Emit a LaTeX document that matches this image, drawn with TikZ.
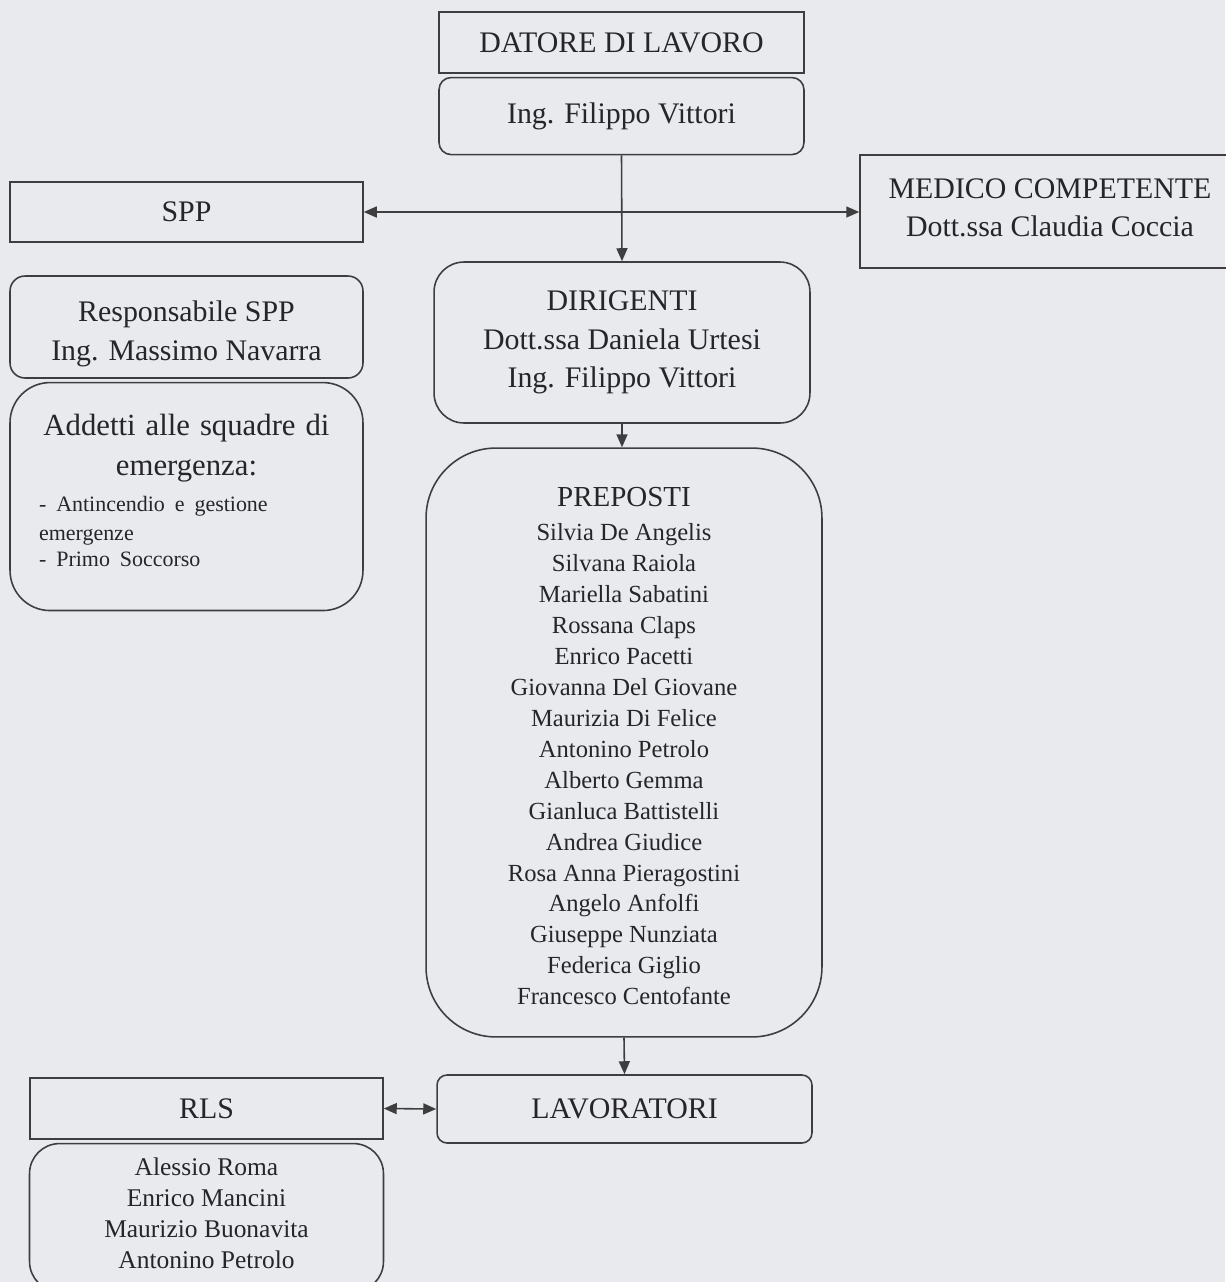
\documentclass[tikz,border=0pt]{standalone}
\usepackage{fontspec}
\setmainfont{Liberation Serif}
\usetikzlibrary{arrows.meta,positioning}
\definecolor{scanbg}{RGB}{233,234,238}
\definecolor{inkgray}{RGB}{62,62,64}
\definecolor{textgray}{RGB}{38,38,40}

\begin{document}
\begin{tikzpicture}[
    x=0.02cm, y=-0.02cm,
    node distance=0.06cm,
    frame/.style={draw=inkgray, line width=0.9pt, text=textgray, inner sep=0pt, font=\fontsize{17}{22}\selectfont},
    box/.style={frame, align=center},
    rbox/.style={box, rounded corners=#1},
    names/.style={font=\fontsize{14}{17.6}\selectfont},
    link/.style={draw=inkgray, line width=0.9pt, -{Triangle[length=0.26cm, width=0.22cm]}},
    both/.style={link, {Triangle[length=0.26cm, width=0.22cm]}-{Triangle[length=0.26cm, width=0.22cm]}}
]
    \fill[scanbg] (0,0) rectangle (1225,1282);

    \node[box, minimum width=7.3cm, minimum height=1.22cm] (datore) at (621.5,42.5) {DATORE DI LAVORO};
    \node[rbox=0.24cm, minimum width=7.3cm, minimum height=1.54cm, below=of datore] (vittori) {Ing. Filippo Vittori};
    \node[box, minimum width=7.06cm, minimum height=1.2cm] (spp) at (186.5,212) {SPP};
    \node[box, minimum width=7.6cm, minimum height=2.26cm] (medico) at (1050,211.5) {MEDICO COMPETENTE\\Dott.ssa Claudia Coccia\rule[-4.6pt]{0pt}{0pt}};
    \node[rbox=0.3cm, minimum width=7.06cm, minimum height=2.04cm] (resp) at (186.5,327) {\rule{0pt}{19.5pt}Responsabile SPP\\Ing. Massimo Navarra};
    \node[frame, rounded corners=0.8cm, minimum width=7.06cm, minimum height=4.56cm, text width=5.9cm, below=of resp] (addetti) {%
        {\centering\fontsize{17.5}{22.7}\selectfont Addetti alle squadre di\\ emergenza:\par}
        \vspace{4pt}
        {\raggedright\fontsize{12.5}{16.6}\selectfont - Antincendio e gestione\\ emergenze\\[-1.6pt] - Primo Soccorso\par}
        \vspace{7pt}};
    \node[rbox=0.6cm, minimum width=7.52cm, minimum height=3.22cm] (dirig) at (622,342.5) {DIRIGENTI\\Dott.ssa Daniela Urtesi\\Ing. Filippo Vittori};
    \node[rbox=1.4cm, names, minimum width=7.92cm, minimum height=11.78cm] (prep) at (624,742.5) {%
        \rule{0pt}{15pt}{\fontsize{16.5}{17.6}\selectfont PREPOSTI}\\[2pt]
        Silvia De Angelis\\ Silvana Raiola\\ Mariella Sabatini\\ Rossana Claps\\
        Enrico Pacetti\\ Giovanna Del Giovane\\ Maurizia Di Felice\\ Antonino Petrolo\\
        Alberto Gemma\\ Gianluca Battistelli\\ Andrea Giudice\\ Rosa Anna Pieragostini\\
        Angelo Anfolfi\\ Giuseppe Nunziata\\ Federica Giglio\\ Francesco Centofante};
    \node[rbox=0.2cm, minimum width=7.5cm, minimum height=1.36cm] (lavor) at (624.5,1109) {LAVORATORI};
    \node[box, minimum width=7.06cm, minimum height=1.22cm] (rls) at (206.5,1108.5) {RLS};
    \node[rbox=0.6cm, names, font=\fontsize{14.5}{17.6}\selectfont, minimum width=7.08cm, minimum height=2.96cm, below=of rls] (rlsnames) {Alessio Roma\\ Enrico Mancini\\ Maurizio Buonavita\\ Antonino Petrolo\rule[-4.6pt]{0pt}{0pt}};

    \draw[link] (vittori.south) -- (dirig.north);
    \draw[both] (spp.east) -- (spp.east -| medico.west);
    \draw[link] (dirig.south) -- (dirig.south |- prep.north);
    \draw[link] (prep.south) -- (lavor.north);
    \draw[both] (rls.east) -- (lavor.west);

    \pgfresetboundingbox
    \path[use as bounding box] (0,0) rectangle (1225,1282);
\end{tikzpicture}
\end{document}
